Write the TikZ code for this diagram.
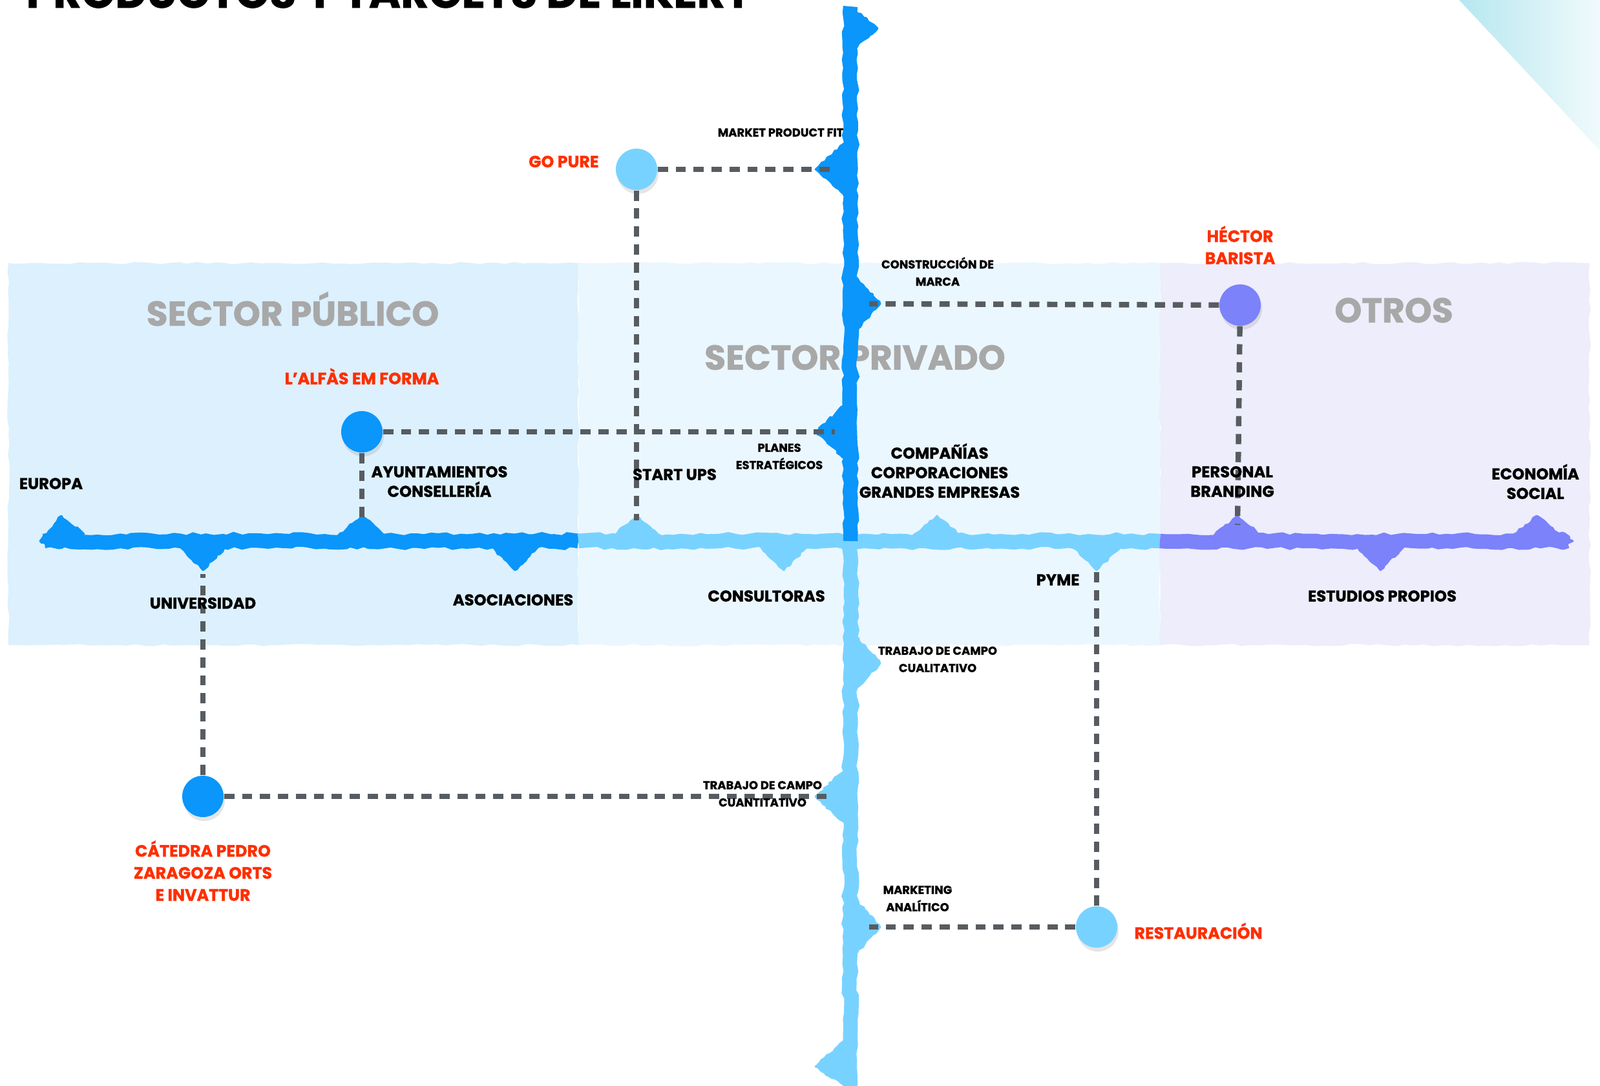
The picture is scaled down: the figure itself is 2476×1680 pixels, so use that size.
\documentclass[tikz,border=0pt]{standalone}
\usepackage{fontspec}
\setmainfont{Poppins}[BoldFeatures={FakeBold=1.2}]
\usetikzlibrary{positioning, decorations.pathmorphing, shadows}

\definecolor{pubblue}{HTML}{0A96FA}
\definecolor{privblue}{HTML}{78D2FF}
\definecolor{otrosviolet}{HTML}{7B82FA}
\definecolor{pubbg}{HTML}{DCF0FD}
\definecolor{privbg}{HTML}{EBF7FE}
\definecolor{otrosbg}{HTML}{EDEDFC}
\definecolor{linkgray}{HTML}{575C61}
\definecolor{namered}{HTML}{FF2E00}
\definecolor{sectorgray}{HTML}{A8A8A8}
\definecolor{cornerdark}{HTML}{B6E7EF}
\definecolor{cornerlight}{HTML}{F0FAFC}

\begin{document}
\begin{tikzpicture}[
    x=0.01cm, y=-0.01cm,
    brush/.style={
        line width=6.4pt,
        decorate,
        decoration={random steps, segment length=3pt, amplitude=0.7pt}
    },
    spike/.style={
        fill=#1, draw=#1,
        line width=0.8pt,
        line join=round,
        decorate,
        decoration={random steps, segment length=1.5pt, amplitude=0.5pt}
    },
    panel/.style={
        fill=#1,
        decorate,
        decoration={random steps, segment length=4pt, amplitude=0.5pt}
    },
    targetdot/.style={
        circle,
        fill=#1,
        minimum size=0.64cm,
        inner sep=0pt,
        drop shadow={shadow xshift=0.02cm, shadow yshift=-0.06cm, opacity=0.2}
    },
    link/.style={
        linkgray,
        line width=2.4pt,
        dash pattern=on 4.5pt off 3.4pt
    },
    lbl/.style={
        font=\fontsize{6.9}{8.6}\selectfont\bfseries,
        align=center,
        inner sep=0pt
    },
    smalllbl/.style={
        font=\fontsize{5.1}{7.6}\selectfont\bfseries,
        align=center,
        inner sep=0pt
    },
    namelbl/.style={
        font=\fontsize{7.2}{9.7}\selectfont\bfseries,
        text=namered,
        align=center,
        inner sep=0pt
    },
    sectorlbl/.style={
        font=\fontsize{15.2}{18}\selectfont\bfseries,
        text=sectorgray,
        inner sep=0pt
    }
]

\useasboundingbox (0,0) rectangle (2476,1680);
\fill[white] (0,0) rectangle (2476,1680);

% sector panels
\fill[panel=pubbg] (13,407) rectangle (895,998);
\fill[panel=privbg] (895,407) rectangle (1795,998);
\fill[panel=otrosbg] (1795,407) rectangle (2460,998);

% corner
\shade[left color=cornerdark, right color=cornerlight]
    (2258,0) -- (2476,0) -- (2476,233) -- cycle;

\node[anchor=base west, inner sep=0pt,
      font=\fontsize{19}{22}\selectfont\bfseries] (title) at (40,12)
    {PRODUCTOS Y TARGETS DE LIKERT};

\node[sectorlbl] (publico) at (453,478) {SECTOR PÚBLICO};
\node[sectorlbl] (privado) at (1323,553) {SECTOR PRIVADO};
\node[sectorlbl] (otros) at (2157,480) {OTROS};

% horizontal axis
\draw[brush, pubblue] (68,837) -- (895,837);
\draw[brush, privblue] (895,837) -- (1795,837);
\draw[brush, otrosviolet] (1795,837) -- (2425,837);
\fill[spike=pubblue] (62,837) -- (75,822) -- (95,798) -- (130,826) -- (95,848) -- cycle;
\fill[spike=otrosviolet] (2418,824) -- (2434,837) -- (2415,849) -- (2400,830) -- cycle;

\foreach \x/\c in {560/pubblue, 985/privblue, 1450/privblue, 1915/otrosviolet, 2378/otrosviolet}
    \fill[spike=\c] (\x-38,830) -- (\x,798) -- (\x+38,830) -- cycle;
\foreach \x/\c in {314/pubblue, 797/pubblue, 1213/privblue, 1697/privblue, 2136/otrosviolet}
    \fill[spike=\c] (\x-38,844) -- (\x,882) -- (\x+38,844) -- cycle;

% vertical axis
\draw[brush, privblue] (1316,837) -- (1316,1680);
\draw[brush, pubblue] (1316,10) -- (1316,837);
\fill[spike=pubblue] (1324,16) -- (1358,44) -- (1324,74) -- cycle;
\fill[spike=privblue] (1308,1608) -- (1262,1650) -- (1308,1680) -- cycle;

\foreach \y in {262, 668}
    \fill[spike=pubblue] (1308,\y-42) -- (1262,\y) -- (1308,\y+42) -- cycle;
\fill[spike=pubblue] (1324,428) -- (1362,470) -- (1324,512) -- cycle;
\foreach \y in {1026, 1434}
    \fill[spike=privblue] (1324,\y-42) -- (1362,\y) -- (1324,\y+42) -- cycle;
\fill[spike=privblue] (1308,1190) -- (1262,1232) -- (1308,1274) -- cycle;

% link ends
\coordinate (mpf) at (1290,262);
\coordinate (marca) at (1345,470);
\coordinate (planes) at (1292,668);
\coordinate (cuanti) at (1290,1232);
\coordinate (analitico) at (1345,1434);
\coordinate (startups) at (985,805);
\coordinate (ayunt) at (560,805);
\coordinate (branding) at (1915,812);
\coordinate (univ) at (314,888);
\coordinate (pyme) at (1697,880);

% targets
\node[targetdot=privblue] (gopure) at (985,262) {};
\node[targetdot=pubblue] (alfas) at (560,668) {};
\node[targetdot=otrosviolet] (hector) at (1919,472) {};
\node[targetdot=pubblue] (catedra) at (314,1232) {};
\node[targetdot=privblue] (restaur) at (1697,1434) {};

\draw[link] (gopure) -- (mpf);
\draw[link] (gopure) -- (startups);
\draw[link] (alfas) -- (planes);
\draw[link] (alfas) -- (ayunt);
\draw[link] (hector) -- (marca);
\draw[link] (hector) -- (branding);
\draw[link] (catedra) -- (univ);
\draw[link] (catedra) -- (cuanti);
\draw[link] (restaur) -- (analitico);
\draw[link] (restaur) -- (pyme);

\node[namelbl, left=0.25cm of gopure, yshift=0.12cm] (gopurelbl) {GO PURE};
\node[namelbl, above=0.4cm of alfas] (alfaslbl) {L’ALFÀS EM FORMA};
\node[namelbl, above=0.3cm of hector] (hectorlbl) {HÉCTOR\\BARISTA};
\node[namelbl, below=0.35cm of catedra] (catedralbl) {CÁTEDRA PEDRO\\ZARAGOZA ORTS\\E INVATTUR};
\node[namelbl, right=0.25cm of restaur, yshift=-0.06cm] (restaurlbl) {RESTAURACIÓN};

% horizontal axis labels
\node[lbl] (europalbl) at (79,748) {EUROPA};
\node[lbl] (ayuntlbl) at (680,745) {AYUNTAMIENTOS\\CONSELLERÍA};
\node[lbl] (startupslbl) at (1044,734) {START UPS};
\node[lbl] (compalbl) at (1454,728) {COMPAÑÍAS\\CORPORACIONES\\GRANDES EMPRESAS};
\node[lbl] (brandinglbl) at (1907,745) {PERSONAL\\BRANDING};
\node[lbl] (sociallbl) at (2376,745) {ECONOMÍA\\SOCIAL};
\node[lbl] (univlbl) at (314,933) {UNIVERSIDAD};
\node[lbl] (asoclbl) at (794,928) {ASOCIACIONES};
\node[lbl] (consultlbl) at (1186,922) {CONSULTORAS};
\node[lbl] (pymelbl) at (1637,897) {PYME};
\node[lbl] (estudioslbl) at (2139,922) {ESTUDIOS PROPIOS};

% vertical axis labels
\node[smalllbl] (mpflbl) at (1208,205) {MARKET PRODUCT FIT};
\node[smalllbl] (marcalbl) at (1451,420) {CONSTRUCCIÓN DE\\MARCA};
\node[smalllbl] (planeslbl) at (1206,706) {PLANES\\ESTRATÉGICOS};
\node[smalllbl] (cualilbl) at (1451,1020) {TRABAJO DE CAMPO\\CUALITATIVO};
\node[smalllbl] (cuantilbl) at (1180,1228) {TRABAJO DE CAMPO\\CUANTITATIVO};
\node[smalllbl] (analiticolbl) at (1420,1390) {MARKETING\\ANALÍTICO};

\end{tikzpicture}
\end{document}
